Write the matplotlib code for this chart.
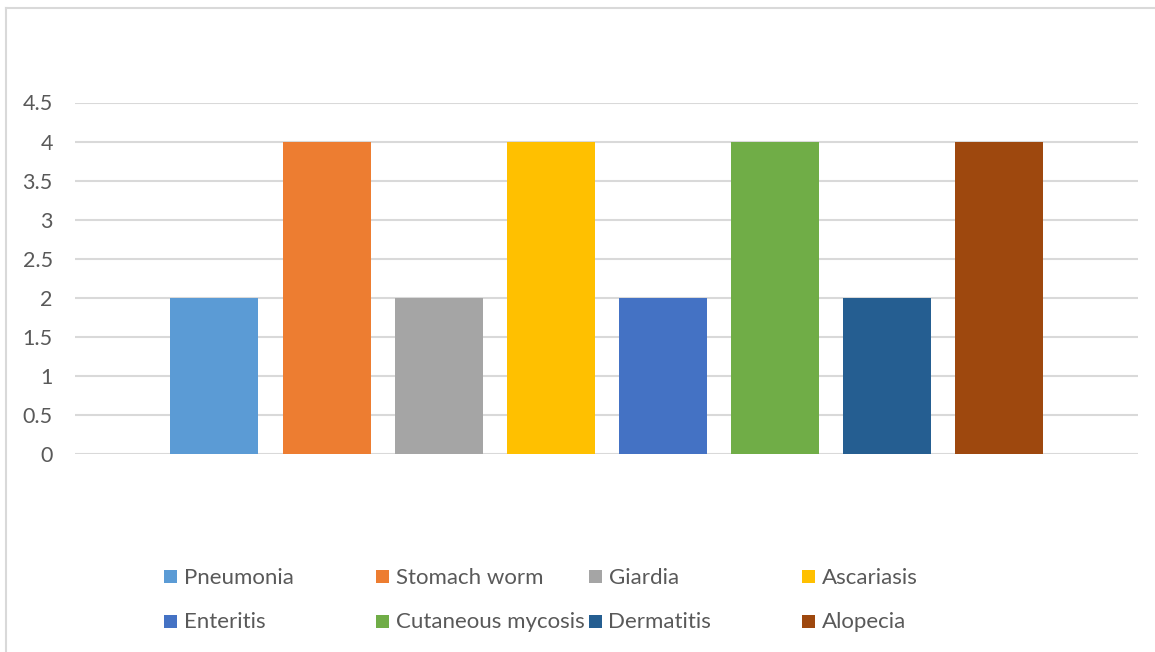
import matplotlib
matplotlib.use("Agg")
import matplotlib.pyplot as plt
from matplotlib.patches import Rectangle
from matplotlib.lines import Line2D

diseases = ["Pneumonia", "Stomach worm", "Giardia", "Ascariasis",
            "Enteritis", "Cutaneous mycosis", "Dermatitis", "Alopecia"]
cases = [2, 4, 2, 4, 2, 4, 2, 4]
colors = ["#5B9BD5", "#ED7D31", "#A5A5A5", "#FFC000",
          "#4472C4", "#70AD47", "#255E91", "#9E480E"]
yticks = [0, 0.5, 1, 1.5, 2, 2.5, 3, 3.5, 4, 4.5]

W, H = 1155, 652
fig = plt.figure(figsize=(W / 100, H / 100), dpi=100)
fig.patch.set_facecolor("white")

FONT = "Lato"
TXT = "#595959"
GRID = "#D9D9D9"

# chart border (top and left edges visible)
fig.add_artist(Line2D([5.5 / W, 5.5 / W], [0, 1 - 8 / H], transform=fig.transFigure,
                      color=GRID, lw=1.5))
fig.add_artist(Line2D([5.5 / W, 1], [1 - 8 / H, 1 - 8 / H], transform=fig.transFigure,
                      color=GRID, lw=1.5))

# plot area in pixels
x0, x1 = 75, 1138
y_top, y_bot = 102.5, 454
ymax = 4.5
ax = fig.add_axes([x0 / W, 1 - y_bot / H, (x1 - x0) / W, (y_bot - y_top) / H])
ax.set_xlim(-0.5, 0.5)
ax.set_ylim(0, ymax)

span = x1 - x0
step = 112 / span
width = 88 / span
n = len(diseases)
for i, (name, v, c) in enumerate(zip(diseases, cases, colors)):
    ax.bar((i - (n - 1) / 2) * step, v, width=width, color=c, zorder=3, label=name)

ax.set_yticks(yticks)
ax.set_yticklabels([f"{t:g}" for t in yticks], fontfamily=FONT, fontsize=15.5, color=TXT)
ax.tick_params(axis="y", length=0, pad=16)
ax.set_xticks([])
ax.yaxis.grid(True, color=GRID, lw=1.5, zorder=0)
for s in ax.spines.values():
    s.set_visible(False)
ax.set_facecolor("none")

# legend laid out in two rows of four
col_x = [164, 376, 589, 802]
row_y = [576, 621]
sq = 13
for i, (name, c) in enumerate(zip(diseases, colors)):
    r, k = divmod(i, 4)
    mx, my = col_x[k], row_y[r]
    fig.add_artist(Rectangle((mx / W, 1 - (my + sq / 2) / H), sq / W, sq / H,
                             transform=fig.transFigure, color=c, lw=0))
    fig.text((mx + 19.5) / W, 1 - (my + 7.5) / H, name, fontfamily=FONT, fontsize=16,
             color=TXT, va="baseline", ha="left")

fig.savefig("out.png", dpi=100, facecolor="white")
